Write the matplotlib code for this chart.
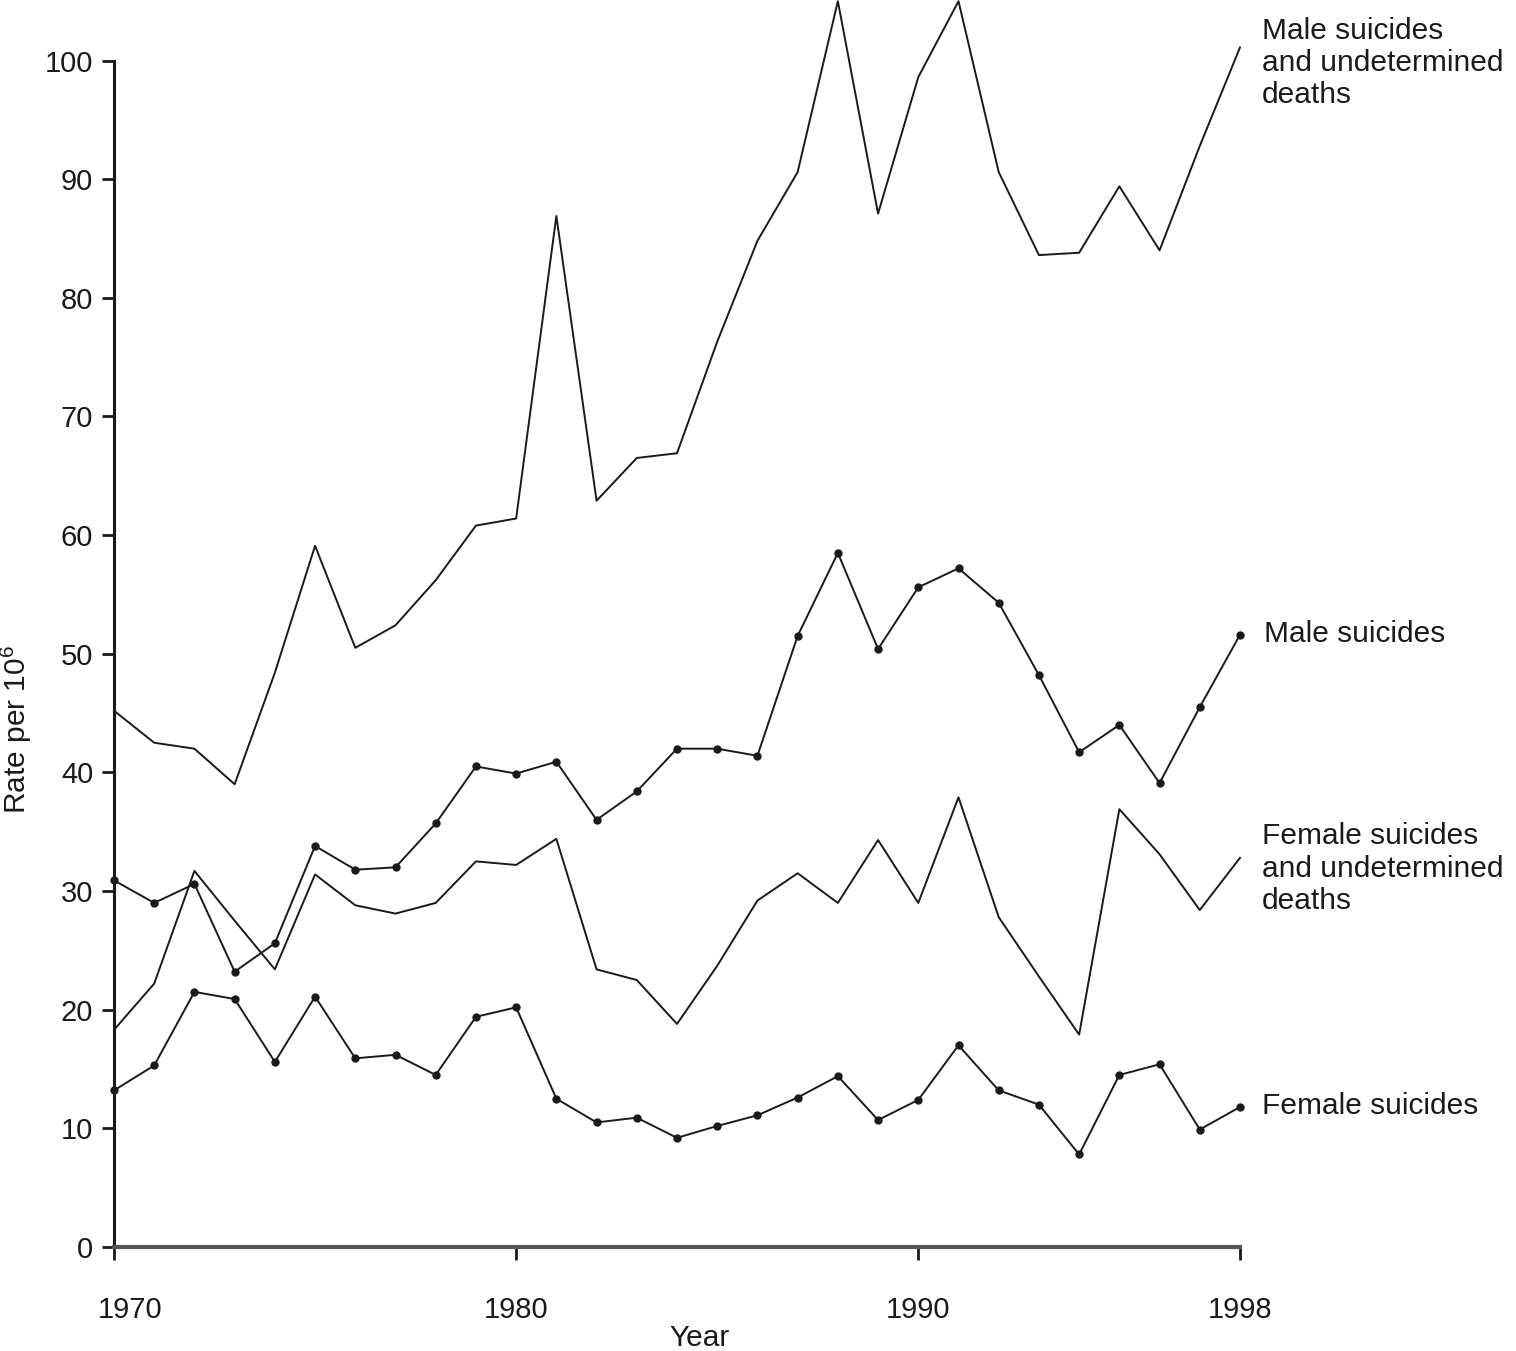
import numpy as np
import matplotlib
matplotlib.use("Agg")
import matplotlib.pyplot as plt
import matplotlib.transforms as mtransforms

plt.rcParams['font.family'] = ['Liberation Sans', 'DejaVu Sans']
plt.rcParams['mathtext.fontset'] = 'custom'
plt.rcParams['mathtext.rm'] = 'Liberation Sans'

# ---------------- data ----------------
years = list(range(1970, 1999))

male_all = [45.2, 42.5, 42.0, 39.0, 48.4, 59.1, 50.5, 52.4, 56.2, 60.8,
            61.4, 86.9, 62.9, 66.5, 66.9, 76.3, 84.8, 90.6, 105.0, 87.1,
            98.6, 105.0, 90.6, 83.6, 83.8, 89.4, 84.0, 92.8, 101.1]

male_suicides = [30.9, 29.0, 30.6, 23.2, 25.6, 33.8, 31.8, 32.0, 35.7, 40.5,
                 39.9, 40.9, 36.0, 38.4, 42.0, 42.0, 41.4, 51.5, 58.5, 50.4,
                 55.6, 57.2, 54.3, 48.2, 41.7, 44.0, 39.1, 45.5, 51.6]

female_all = [18.3, 22.2, 31.7, 27.5, 23.4, 31.4, 28.8, 28.1, 29.0, 32.5,
              32.2, 34.4, 23.4, 22.5, 18.8, 23.7, 29.2, 31.5, 29.0, 34.3,
              29.0, 37.9, 27.8, 22.8, 17.9, 36.9, 33.1, 28.4, 32.8]

female_suicides = [13.2, 15.3, 21.5, 20.9, 15.6, 21.1, 15.9, 16.2, 14.5, 19.4,
                   20.2, 12.5, 10.5, 10.9, 9.2, 10.2, 11.1, 12.6, 14.4, 10.7,
                   12.4, 17.0, 13.2, 12.0, 7.8, 14.5, 15.4, 9.9, 11.8]

labels = ["Male suicides\nand undetermined\ndeaths",
          "Male suicides",
          "Female suicides\nand undetermined\ndeaths",
          "Female suicides"]

# ---------------- plot ----------------
fig = plt.figure(figsize=(15.16, 13.51), dpi=100)
ax = fig.add_axes([114/1516, 104/1351, 1126/1516, 1247/1351])

ink = '#1a1a1a'
ax.plot(years, male_all, color=ink, linewidth=1.4, clip_on=False)
ax.plot(years, male_suicides, color=ink, linewidth=1.4, marker='o',
        markersize=5, clip_on=False)
ax.plot(years, female_all, color=ink, linewidth=1.4, clip_on=False)
ax.plot(years, female_suicides, color=ink, linewidth=1.4, marker='o',
        markersize=5, clip_on=False)

ax.set_xlim(1970, 1998)
ax.set_ylim(0, 105.1)

# series labels on the right
fs = 21.5
ax.text(1998.55, 103.7, labels[0], fontsize=fs, va='top', ha='left',
        linespacing=1.2, color=ink)
ax.text(1998.6, 51.7, labels[1], fontsize=fs, va='center', ha='left',
        color=ink)
ax.text(1998.55, 31.9, labels[2], fontsize=fs, va='center', ha='left',
        linespacing=1.2, color=ink)
ax.text(1998.55, 11.9, labels[3], fontsize=fs, va='center', ha='left',
        color=ink)

# axes styling
for s in ['top', 'right']:
    ax.spines[s].set_visible(False)
ax.spines['left'].set_bounds(0, 100)
ax.spines['left'].set_linewidth(2.2)
ax.spines['left'].set_color(ink)
ax.spines['bottom'].set_linewidth(3)
ax.spines['bottom'].set_color('#555555')

ax.set_yticks(range(0, 101, 10))
ax.set_xticks([1970, 1980, 1990, 1998])
ax.tick_params(axis='y', direction='out', length=9, width=2, pad=6,
               labelsize=21, colors=ink)
ax.tick_params(axis='x', direction='out', length=9, width=2, pad=26,
               labelsize=21, colors=ink)

# first year label sits a little right of its tick
first = ax.get_xticklabels()[0]
first.set_transform(first.get_transform() +
                    mtransforms.ScaledTranslation(0.16, 0, fig.dpi_scale_trans))

ax.set_ylabel("Rate per 10$^6$", fontsize=fs, color=ink)
ax.yaxis.set_label_coords(-0.071, 0.415)
ax.set_xlabel("Year", fontsize=fs, color=ink)
ax.xaxis.set_label_coords(0.52, -0.062)

plt.savefig('out.png', dpi=100)
